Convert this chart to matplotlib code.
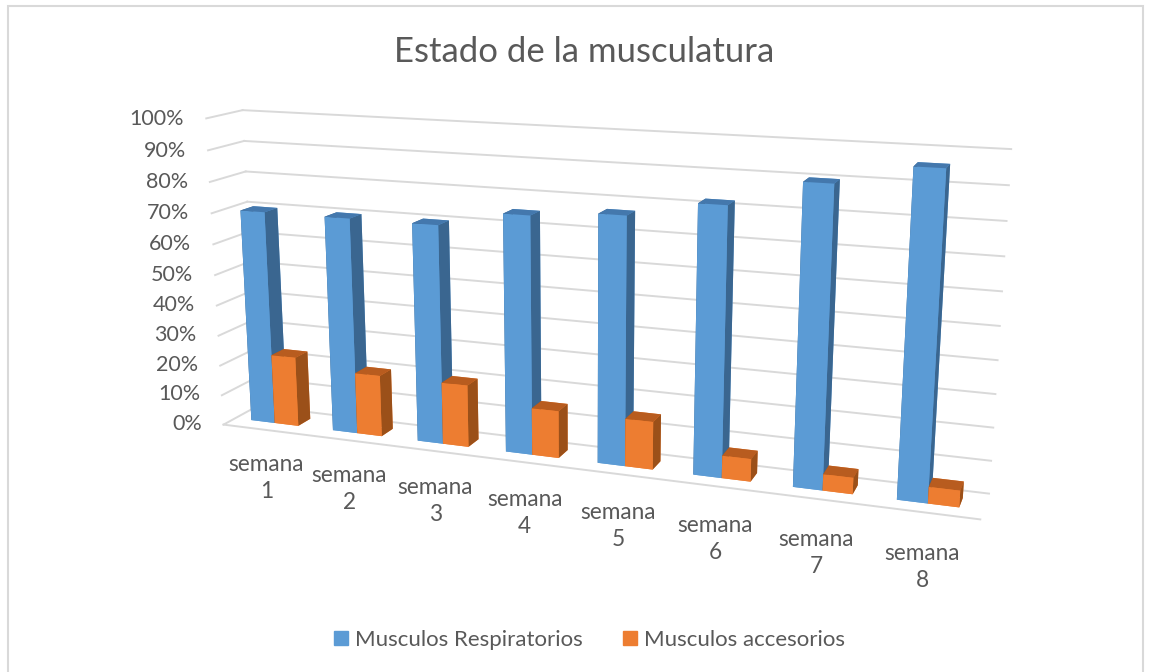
import matplotlib
matplotlib.use('Agg')
from matplotlib import pyplot as plt
from matplotlib.patches import Patch, Rectangle

plt.rcParams['font.family'] = ['Lato', 'DejaVu Sans']

weeks = ['semana\n1', 'semana\n2', 'semana\n3', 'semana\n4',
         'semana\n5', 'semana\n6', 'semana\n7', 'semana\n8']
respiratorios = [70, 70, 70, 75, 77, 82, 90, 96]
accesorios = [23, 20, 20, 15, 15, 7, 5, 5]
ticks = [0, 10, 20, 30, 40, 50, 60, 70, 80, 90, 100]

GRID = '#d9d9d9'
TEXT = '#595959'
# face order of bar3d: bottom, top, front, back, left, right
BLUE = ['#5b9bd5', '#4478ad', '#5b9bd5', '#5b9bd5', '#3a6690', '#3a6690']
ORANGE = ['#ed7d31', '#b85c1f', '#ed7d31', '#ed7d31', '#9b5019', '#9b5019']

fig = plt.figure(figsize=(11.53, 6.72), dpi=100, facecolor='white')
fig.add_artist(Rectangle((8 / 1153, -0.1), 1135 / 1153, 1.0 + 0.1 - 6 / 672,
                         transform=fig.transFigure, fill=False,
                         edgecolor=GRID, linewidth=1.5))

# 3d axes keep a square box, so make it as wide as the figure
ax = fig.add_axes([-0.008, -0.326, 1.0, 1.716], projection='3d', computed_zorder=False)
ax.set_axis_off()
ax.patch.set_alpha(0)
ax.set_proj_type('persp', focal_length=0.26)
ax.view_init(elev=14, azim=-70)
ax.set_box_aspect((1.255, 0.11, 0.52), zoom=0.737)
ax.set_xlim(0, 8)
ax.set_ylim(0, 1)
ax.set_zlim(0, 100)

# back wall and left wall grid
for t in ticks:
    ax.plot([0, 8], [1, 1], [t, t], color=GRID, lw=1.4, zorder=1)
    ax.plot([0, 0], [0, 1], [t, t], color=GRID, lw=1.4, zorder=1)
    ax.text(-0.27, 0, t - 0.6, str(t) + '%', ha='right', va='center',
            fontsize=15.5, color=TEXT)
ax.plot([0, 8], [0, 0], [0, 0], color=GRID, lw=1.4, zorder=1)

bar_w = 0.29
bar_d = 0.37
for i in range(len(weeks)):
    left = i + 0.2
    ax.bar3d(left, 0.34, 0, bar_w, bar_d, respiratorios[i], color=BLUE,
             shade=False, linewidth=0, zorder=2 + 2 * i)
    ax.bar3d(left + bar_w, 0.34, 0, bar_w, bar_d, accesorios[i], color=ORANGE,
             shade=False, linewidth=0, zorder=3 + 2 * i)
    ax.text(i + 0.5, 0.0, -16.5, weeks[i], ha='center', va='center',
            fontsize=16.3, color=TEXT, linespacing=1.35)

fig.text(584 / 1153, 1 - 52 / 672, 'Estado de la musculatura', ha='center',
         va='center', fontsize=25, color=TEXT)
fig.legend(handles=[Patch(color=BLUE[0], label='Musculos Respiratorios'),
                    Patch(color=ORANGE[0], label='Musculos accesorios')],
           loc='center', bbox_to_anchor=(589.5 / 1153, 1 - 640 / 672), ncol=2,
           frameon=False, fontsize=16, labelcolor=TEXT, handlelength=0.63,
           handleheight=0.63, handletextpad=0.3, columnspacing=1.8)

fig.savefig('out.png', dpi=100)
